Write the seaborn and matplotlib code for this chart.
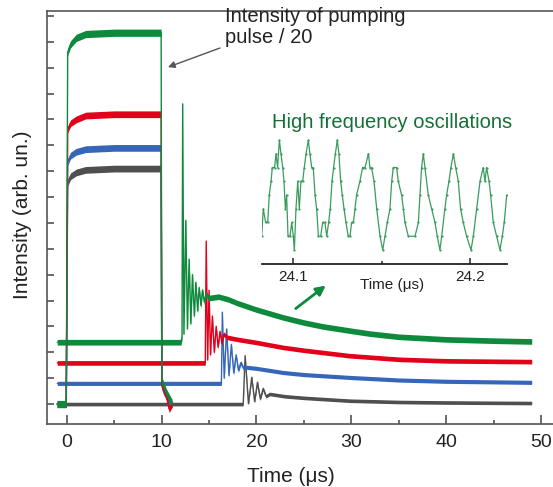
import matplotlib
matplotlib.use("Agg")
import matplotlib.pyplot as plt
import seaborn as sns
import numpy as np

# ---------------- data ----------------
# pumping pulses (intensity / 20)
pump_t = [-1.0, -0.05, 0.1, 0.4, 1.0, 2.0, 5.0, 9.95, 10.02, 10.2, 10.5, 10.8, 11.1]
pump_green = [0.0, 0.0, 13.6, 13.9, 14.15, 14.3, 14.35, 14.35, 0.9, 0.75, 0.45, 0.25, 0.05]
pump_red = [0.0, 0.0, 10.6, 10.85, 11.0, 11.15, 11.2, 11.2, 0.8, 0.6, 0.3, -0.2, 0.0]
pump_blue = [0.0, 0.0, 9.35, 9.6, 9.75, 9.85, 9.9, 9.9, 0.8, 0.6, 0.35, 0.0, 0.0]
pump_gray = [0.0, 0.0, 8.55, 8.8, 8.95, 9.05, 9.1, 9.1, 0.7, 0.5, 0.3, 0.05, 0.0]

# laser output traces
green_t = [-1.0, 12.05, 12.15, 12.22, 12.35, 12.55, 12.72, 12.9, 13.08, 13.25, 13.45,
           13.6, 13.8, 13.95, 14.15, 14.3, 14.5, 14.7, 15.0, 16.0, 17.0, 18.0, 20.0,
           22.8, 25.0, 27.0, 29.8, 32.0, 35.0, 40.0, 45.0, 49.0]
green_y = [2.39, 2.39, 2.6, 11.6, 2.7, 7.1, 2.9, 5.6, 3.1, 5.0, 3.4,
           4.7, 3.6, 4.5, 3.8, 4.4, 3.95, 4.25, 4.1, 4.15, 4.05, 3.9, 3.65,
           3.35, 3.15, 3.0, 2.84, 2.72, 2.6, 2.5, 2.45, 2.42]

red_t = [-1.0, 14.6, 14.7, 14.85, 15.0, 15.15, 15.35, 15.55, 15.75, 15.95, 16.15,
         16.35, 16.55, 16.9, 18.0, 20.0, 22.8, 25.0, 29.8, 35.0, 40.0, 49.0]
red_y = [1.59, 1.59, 6.3, 1.7, 4.4, 1.9, 3.4, 2.0, 3.0, 2.2, 2.8,
         2.35, 2.7, 2.58, 2.5, 2.38, 2.19, 2.08, 1.87, 1.73, 1.67, 1.64]

blue_t = [-1.0, 16.3, 16.4, 16.6, 16.85, 17.1, 17.35, 17.6, 17.85, 18.1, 18.35,
          18.6, 19.0, 20.0, 22.8, 25.0, 29.8, 35.0, 40.0, 49.0]
blue_y = [0.80, 0.80, 3.55, 1.0, 2.9, 1.1, 2.3, 1.2, 1.9, 1.3, 1.6,
          1.4, 1.42, 1.38, 1.22, 1.14, 1.03, 0.93, 0.88, 0.84]

gray_t = [-1.0, 18.6, 18.8, 19.15, 19.5, 19.8, 20.1, 20.4, 20.7, 21.0, 21.4,
          23.0, 25.0, 29.8, 35.0, 40.0, 49.0]
gray_y = [0.0, 0.0, 1.87, 0.02, 1.03, 0.1, 0.84, 0.2, 0.6, 0.3, 0.39,
          0.3, 0.24, 0.13, 0.08, 0.06, 0.04]

# inset: high frequency oscillations (time in us, digitiser level)
inset_t = [24.0821, 24.0830, 24.0843, 24.0855, 24.0864, 24.0874, 24.0881, 24.0894,
           24.0902, 24.0911, 24.0921, 24.0930, 24.0940, 24.0947, 24.0955, 24.0962,
           24.0970, 24.0981, 24.0991, 24.1000, 24.1006, 24.1015, 24.1025, 24.1034,
           24.1043, 24.1053, 24.1062, 24.1072, 24.1085, 24.1094, 24.1104, 24.1113,
           24.1123, 24.1132, 24.1142, 24.1155, 24.1166, 24.1179, 24.1189,
           24.1200, 24.1209, 24.1219, 24.1228, 24.1238, 24.1249, 24.1258, 24.1268,
           24.1277, 24.1287, 24.1298, 24.1311, 24.1321, 24.1330, 24.1340, 24.1349,
           24.1358, 24.1377, 24.1392, 24.1406, 24.1425, 24.1434, 24.1443, 24.1457,
           24.1472, 24.1491, 24.1506, 24.1519, 24.1532, 24.1547, 24.1557, 24.1566,
           24.1585, 24.1594, 24.1613, 24.1623, 24.1632, 24.1651, 24.1689, 24.1708,
           24.1717, 24.1726, 24.1736, 24.1745, 24.1764, 24.1783, 24.1802, 24.1815,
           24.1830, 24.1840, 24.1858, 24.1868, 24.1881, 24.1892, 24.1906, 24.1919,
           24.1934, 24.1947, 24.1962, 24.1981, 24.2006, 24.2019, 24.2038, 24.2057,
           24.2075, 24.2085, 24.2094, 24.2108, 24.2117, 24.2132, 24.2151, 24.2170,
           24.2183, 24.2194, 24.2208]
inset_y = [1, 3, 2, 2, 4, 5, 6, 6,
           7, 6, 8, 7, 6, 5, 3, 4,
           1, 1, 2, 1, 0, 3, 5, 3,
           5, 5, 6, 7, 8, 7, 6, 6,
           4, 3, 1, 1, 2, 2, 1,
           2, 3, 5, 6, 7, 8, 7, 5,
           4, 3, 2, 1, 1, 2, 2, 3,
           4, 5, 6, 6, 7, 6, 6, 5,
           3, 1, 0, 1, 2, 3, 5, 6,
           6, 5, 4, 3, 2, 1, 1, 2,
           4, 6, 7, 6, 4, 3, 2, 1,
           0, 1, 3, 4, 5, 6, 7, 6,
           5, 3, 2, 1, 0, 1, 3, 5,
           6, 5, 6, 5, 4, 2, 1, 0,
           1, 2, 4]

x_ticks = [0, 10, 20, 30, 40, 50]
inset_ticks = [24.1, 24.2]

C_GREEN = "#0d8a3c"
C_RED = "#e2001a"
C_BLUE = "#3566b8"
C_GRAY = "#4f4f4f"

# ---------------- figure ----------------
sns.set_theme(style="ticks")
plt.rcParams["font.family"] = ["Liberation Sans", "DejaVu Sans"]

fig = plt.figure(figsize=(5.53, 4.87), dpi=100)
ax = fig.add_axes([47 / 553, 1 - 424 / 487, 1 - 47 / 553, (424 - 11) / 487])


def trace(t, y, color, band, lw=1.0, z=2):
    t = np.asarray(t, float)
    y = np.asarray(y, float)
    ax.fill_between(t, y - band, y + band, color=color, lw=0, zorder=z)
    sns.lineplot(x=t, y=y, ax=ax, color=color, lw=lw, estimator=None,
                 sort=False, zorder=z + 0.1)


# laser outputs
trace(gray_t, gray_y, C_GRAY, 0.07, z=2)
trace(blue_t, blue_y, C_BLUE, 0.08, z=2.2)
trace(red_t, red_y, C_RED, 0.09, z=2.4)
trace(green_t, green_y, C_GREEN, 0.11, z=2.6)
# pump pulses (green on top)
trace(pump_t, pump_gray, C_GRAY, 0.13, z=3)
trace(pump_t, pump_blue, C_BLUE, 0.13, z=3.2)
trace(pump_t, pump_red, C_RED, 0.13, z=3.4)
trace(pump_t, pump_green, C_GREEN, 0.14, z=3.6)

ax.set_xlim(-2.08, 51.25)
ax.set_ylim(-0.77, 15.19)
ax.set_xticks(x_ticks)
ax.set_xticks([5, 15, 25, 35, 45], minor=True)
ax.set_yticks(range(0, 16))
ax.tick_params(axis="x", which="major", direction="in", length=6.5, width=1.1,
               labelsize=14, pad=7, color="#444444", labelcolor="#222222")
ax.tick_params(axis="x", which="minor", direction="in", length=3, width=1.1,
               color="#444444")
ax.tick_params(axis="y", which="major", direction="in", length=5, width=1.1,
               labelleft=False, color="#444444")
for s in ["left", "bottom", "top"]:
    ax.spines[s].set_color("#555555")
    ax.spines[s].set_linewidth(1.2)
ax.spines["right"].set_visible(False)

ax.set_xlabel("Time (μs)", fontsize=15, color="#222222")
ax.xaxis.set_label_coords((291 - 47) / 506, (424 - 476) / 413)
ax.xaxis.label.set_va("center")
ax.set_ylabel("Intensity (arb. un.)", fontsize=15, color="#222222")
ax.yaxis.set_label_coords((23 - 47) / 506, (424 - 215) / 413)
ax.yaxis.label.set_va("center")

# annotation for pump pulse
fig.text(225 / 553, 1 - 43 / 487, "Intensity of pumping\npulse / 20",
         fontsize=14.5, color="#222222", va="baseline", ha="left",
         linespacing=1.15)
ax.annotate("", xy=(10.67, 13.02), xytext=(16.15, 13.76),
            arrowprops=dict(arrowstyle="-|>", color="#555555", lw=1.0,
                            mutation_scale=10, shrinkA=0, shrinkB=0))

# green arrow to inset
ax.annotate("", xy=(27.3, 4.58), xytext=(24.13, 3.69),
            arrowprops=dict(arrowstyle="-|>", color=C_GREEN, lw=2.0,
                            mutation_scale=14, shrinkA=0, shrinkB=0))

fig.text(271.7 / 553, 1 - 128 / 487, "High frequency oscillations",
         fontsize=14.5, color="#137037", va="baseline", ha="left")

# ---------------- inset ----------------
ax_in = fig.add_axes([261.7 / 553, 1 - 264 / 487, 245 / 553, 134 / 487])
ax_in.patch.set_alpha(0)
sns.lineplot(x=inset_t, y=inset_y, ax=ax_in, color="#3a9c5c", lw=0.9,
             estimator=None, sort=False, marker="o", markersize=1.6,
             markeredgewidth=0)
ax_in.set_xlim(24.0821, 24.2208)
ax_in.set_ylim(-1.02, 8.73)
ax_in.set_xticks(inset_ticks)
ax_in.set_xticklabels(["24.1", "24.2"])
ax_in.set_xticks([24.15], minor=True)
ax_in.set_yticks([])
for s in ["left", "right", "top"]:
    ax_in.spines[s].set_visible(False)
ax_in.spines["bottom"].set_color("#222222")
ax_in.spines["bottom"].set_linewidth(1.3)
ax_in.tick_params(axis="x", which="major", direction="in", length=4, width=1.1,
                  labelsize=11, pad=4, color="#222222", labelcolor="#222222")
ax_in.tick_params(axis="x", which="minor", direction="in", length=2.5, width=1.1,
                  color="#222222")
ax_in.set_xlabel("")
ax_in.set_ylabel("")
ax_in.text(0.531, -0.157, "Time (μs)", transform=ax_in.transAxes, fontsize=11,
           color="#222222", ha="center", va="center")

fig.savefig("out.png", dpi=100)
